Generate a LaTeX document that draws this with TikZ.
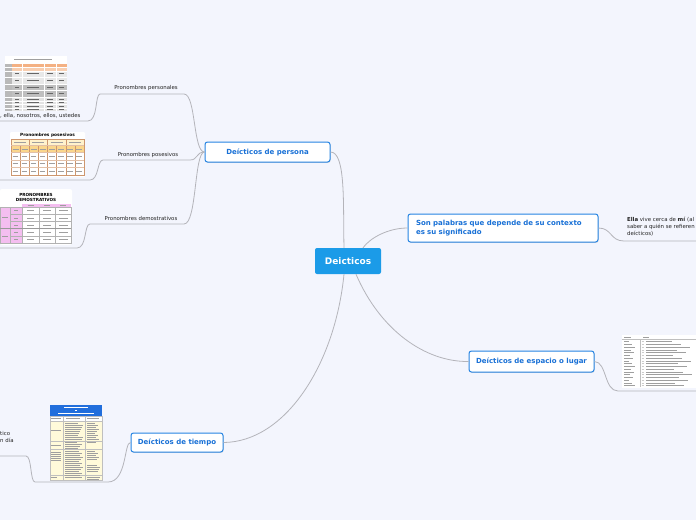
\documentclass[tikz,border=0pt]{standalone}
\usepackage{fontspec}
\setmainfont{DejaVu Sans}
\usetikzlibrary{shadows,calc}
\definecolor{bg}{RGB}{243,245,253}
\definecolor{mblue}{RGB}{38,132,226}
\definecolor{tblue}{RGB}{24,112,214}
\definecolor{cfill}{RGB}{27,155,232}
\definecolor{conn}{RGB}{180,180,186}
\definecolor{lab}{RGB}{35,35,35}
\definecolor{orA}{RGB}{244,177,131}
\definecolor{orB}{RGB}{248,206,176}
\definecolor{cream}{RGB}{255,242,204}
\definecolor{gold}{RGB}{250,214,140}
\definecolor{brn}{RGB}{205,150,110}
\definecolor{pinkA}{RGB}{244,190,240}
\definecolor{tbblue}{RGB}{33,110,220}
\definecolor{tbcream}{RGB}{255,250,218}
\begin{document}
\begin{tikzpicture}[x=1pt,y=-1pt,
 conn/.style={draw=conn,line width=0.8pt},
 branch/.style={draw=mblue,line width=1pt,fill=white,rounded corners=2.5pt,text=tblue,
   font=\bfseries\fontsize{7}{8.5}\selectfont,inner sep=0pt,
   drop shadow={shadow xshift=0.6pt,shadow yshift=-0.9pt,opacity=0.25}},
 lbl/.style={font=\fontsize{5.4}{7}\selectfont,text=lab,inner sep=0pt},
 ftxt/.style={draw=gray!75,line width=0.45pt},
]
\useasboundingbox (0,0) rectangle (696,520);
\fill[bg] (0,0) rectangle (696,520);
\clip (0,0) rectangle (696,520);

% ---------- main nodes ----------
\node[fill=cfill,rounded corners=2pt,minimum width=66pt,minimum height=26pt,inner sep=0pt,
  text=white,font=\bfseries\fontsize{9}{10}\selectfont] (c) at (348,261) {Deicticos};
\node[branch,minimum width=125pt,minimum height=20pt] (p) at (267.5,152) {Deícticos de persona};
\node[branch,minimum width=190pt,minimum height=28pt,text width=174pt,align=left] (s) at (503,228)
  {Son palabras que depende de su contexto\\es su significado};
\node[branch,minimum width=125pt,minimum height=21pt] (e) at (531.5,361.5) {Deícticos de espacio o lugar};
\node[branch,minimum width=92pt,minimum height=19pt] (t) at (177,442.5) {Deícticos de tiempo};

% ---------- main connectors ----------
\draw[conn] (p.east) .. controls (346,152) and (343,205) .. ($(c.north)+(-4,0)$);
\draw[conn] ($(c.north)+(15,0)$) .. controls (370,238) and (388,228) .. (s.west);
\draw[conn] ($(c.south)+(8,0)$) .. controls (380,330) and (425,362) .. (e.west);
\draw[conn] ($(c.south)+(-4,0)$) .. controls (335,365) and (285,442) .. (t.east);

% ---------- persona sub-branches ----------
\node[lbl] (lp1) at (146,88) {Pronombres personales};
\node[lbl] (lp2) at (148,155) {Pronombres posesivos};
\node[lbl] (lp3) at (141,218.5) {Pronombres demostrativos};
\coordinate (a1) at (184,94);  \coordinate (a2) at (100,94);
\coordinate (a3) at (88,121);  \coordinate (a4) at (0,121);
\coordinate (b1) at (190,160); \coordinate (b2) at (103,160);
\coordinate (b3) at (90,180);  \coordinate (b4) at (0,180);
\coordinate (d1) at (184,224); \coordinate (d2) at (90,224);
\coordinate (d3) at (77,248);  \coordinate (d4) at (0,248);
\draw[conn] (p.west) .. controls (193,152) and (196,94) .. (a1) -- (a2)
   .. controls (95,94) and (98,121) .. (a3) -- (a4);
\draw[conn] (p.west) .. controls (196,152) and (198,160) .. (b1) -- (b2)
   .. controls (97,160) and (99,180) .. (b3) -- (b4);
\draw[conn] (p.west) .. controls (194,152) and (197,224) .. (d1) -- (d2)
   .. controls (84,224) and (87,248) .. (d3) -- (d4);

\node[lbl,anchor=west] (tp) at (0,116) {, ella, nosotros, ellos, ustedes};

% table: personales
\begin{scope}
\fill[white] (5,56) rectangle (67,111);
\draw[ftxt] (14,59.5) -- (52,59.5);
\fill[orA] (12,63.5) rectangle (67,67.5);
\fill[orB] (12,67.5) rectangle (67,71);
\fill[gray!55] (5,63.5) rectangle (12,111);
\fill[gray!18] (12,71) rectangle (67,84);
\fill[gray!50] (12,84) rectangle (67,97);
\fill[gray!22] (12,97) rectangle (67,111);
\foreach \xx in {22,44,56} \draw[white,line width=0.4pt] (\xx,63.5) -- (\xx,111);
\foreach \yy in {67.5,71,77,84,90,97,101,104,108} \draw[white,line width=0.3pt] (5,\yy) -- (67,\yy);
\foreach \yy in {73.5,80,87,93,99,102.5,106,109.5} {
  \draw[gray!80!black,line width=0.35pt] (15,\yy) -- (19,\yy);
  \draw[gray!80!black,line width=0.35pt] (27,\yy) -- (39,\yy);
  \draw[gray!80!black,line width=0.35pt] (47,\yy) -- (53,\yy);
  \draw[gray!80!black,line width=0.35pt] (59,\yy) -- (64,\yy);}
\end{scope}

% table: posesivos
\begin{scope}
\fill[white,rounded corners=1pt] (10,132) rectangle (85,177);
\node[font=\bfseries\fontsize{4.3}{5}\selectfont,inner sep=0pt] (tt2) at (47.5,135.3) {Pronombres posesivos};
\fill[cream] (11,139) rectangle (84,145.5);
\fill[gold] (11,145.5) rectangle (84,152.5);
\draw[brn,line width=0.3pt] (11,139) rectangle (84,175);
\foreach \xx in {29.25,47.5,65.75} \draw[brn,line width=0.4pt] (\xx,139) -- (\xx,175);
\foreach \xx in {20.1,38.4,56.6,74.9} \draw[brn,line width=0.3pt] (\xx,145.5) -- (\xx,175);
\foreach \yy in {145.5,152.5,160,167.5} \draw[brn!60,line width=0.3pt] (11,\yy) -- (84,\yy);
\foreach \xx in {20.1,38.4,56.6,74.9} \draw[ftxt] (\xx-6,142.2) -- (\xx+6,142.2);
\foreach \xx in {15.5,24.6,33.8,42.9,52,61.2,70.3,79.4} {
  \draw[ftxt] (\xx-3,149) -- (\xx+3,149);
  \foreach \yy in {156.2,163.7,171.2} \draw[ftxt] (\xx-3,\yy) -- (\xx+2.5,\yy);}
\end{scope}

% table: demostrativos
\begin{scope}
\fill[white,rounded corners=2pt] (0,189) rectangle (72,245);
\node[font=\bfseries\fontsize{4.2}{5}\selectfont,inner sep=0pt,align=center] (tt3) at (36,197.5) {PRONOMBRES\\DEMOSTRATIVOS};
\fill[pinkA] (22,203.5) rectangle (71,207);
\fill[pinkA] (0,207) rectangle (22,243);
\draw[gray!60,line width=0.3pt] (0,207) rectangle (71,243);
\foreach \xx in {10,22,39,55} \draw[gray!60,line width=0.3pt] (\xx,207) -- (\xx,243);
\foreach \yy in {214.2,221.4,236} \draw[gray!60,line width=0.3pt] (10,\yy) -- (71,\yy);
\draw[gray!80,line width=0.6pt] (0,228.6) -- (71,228.6);
\foreach \xx in {30.5,47,63} \draw[ftxt] (\xx-3,205.2) -- (\xx+3,205.2);
\draw[ftxt] (2,217.5) -- (8,217.5);
\draw[ftxt] (2,236) -- (8,236);
\foreach \yy in {210.6,217.8,225,232.2,239.4} {
  \draw[ftxt] (14,\yy) -- (18,\yy);
  \draw[ftxt] (27,\yy) -- (34,\yy);
  \draw[ftxt] (43,\yy) -- (51,\yy);
  \draw[ftxt] (59,\yy) -- (68,\yy);}
\end{scope}

% ---------- right: Son palabras ----------
\coordinate (r1) at (624,241); \coordinate (r2) at (696,241);
\draw[conn] (s.east) .. controls (612,228) and (610,241) .. (r1) -- (r2);
\node[lbl,anchor=north west,align=left,font=\fontsize{5.4}{7.2}\selectfont] (rt) at (627,216.5)
  {\textbf{Ella} vive cerca de \textbf{mí} (al\\saber a quién se refieren\\deícticos)};

% ---------- espacio ----------
\coordinate (q1) at (618,391); \coordinate (q2) at (696,391);
\draw[conn] (e.east) .. controls (607,362) and (604,391) .. (q1) -- (q2);
\begin{scope}
\fill[white] (622,335) rectangle (696,388);
\draw[ftxt] (624,337.5) -- (631,337.5);
\draw[ftxt] (643,337.5) -- (649,337.5);
\draw[gray!50,line width=0.3pt] (622,339) -- (696,339);
\draw[gray!50,line width=0.3pt] (640,339) -- (640,387);
\foreach \i in {0,...,16} {
  \draw[ftxt] (624,{341.5+\i*2.75}) -- ({629+mod(\i*3,7)},{341.5+\i*2.75});
  \draw[gray!40,line width=0.25pt] (641.5,{341.5+\i*2.75}) -- (644,{341.5+\i*2.75});
  \draw[ftxt] (646,{341.5+\i*2.75}) -- ({672+mod(\i*9,22)},{341.5+\i*2.75});}
\end{scope}

% ---------- tiempo ----------
\coordinate (u1) at (108,482); \coordinate (u2) at (35,482);
\coordinate (u3) at (26,456);  \coordinate (u4) at (0,456);
\draw[conn] (t.west) .. controls (124,442) and (127,482) .. (u1) -- (u2)
   .. controls (30,482) and (32,456) .. (u3) -- (u4);
\node[lbl,anchor=north west,align=left] (lt) at (0,431.5) {tico\\n día};
\begin{scope}
\fill[tbblue] (50,405) rectangle (102,416);
\draw[white,line width=0.35pt] (64,407.5) -- (88,407.5);
\draw[white,line width=0.35pt] (75,410.2) -- (77,410.2);
\draw[white,line width=0.35pt] (58,413) -- (94,413);
\fill[white] (50,416) rectangle (102,421);
\fill[tbcream] (50,421) rectangle (102,480);
\draw[gray!50,line width=0.3pt] (50,416) rectangle (102,480);
\draw[gray!50,line width=0.3pt] (63,416) -- (63,480);
\draw[gray!50,line width=0.3pt] (85,416) -- (85,480);
\foreach \yy in {421,441,449,475} \draw[gray!50,line width=0.3pt] (50,\yy) -- (102,\yy);
\draw[ftxt] (51,418.5) -- (61,418.5);
\draw[ftxt] (66,418.5) -- (80,418.5);
\draw[ftxt] (87,418.5) -- (99,418.5);
\draw[ftxt] (51,430) -- (61,430);
\draw[ftxt] (51,445) -- (61,445);
\foreach \yy in {452,454,456,458,460} \draw[ftxt] (51,\yy) -- (61,\yy);
\draw[ftxt] (51,477.5) -- (57,477.5);
\foreach \i in {0,...,8} {
  \draw[ftxt] (65,{423+\i*2}) -- ({78+mod(\i*5,6)},{423+\i*2});
  \draw[ftxt] (87,{423+\i*2}) -- ({95+mod(\i*3,5)},{423+\i*2});}
\foreach \i in {0,...,3} \draw[ftxt] (65,{442.5+\i*2}) -- ({77+mod(\i*5,7)},{442.5+\i*2});
\draw[ftxt] (87,442.5) -- (96,442.5);
\foreach \i in {0,...,12} \draw[ftxt] (65,{451+\i*2}) -- ({79+mod(\i*3,5)},{451+\i*2});
\foreach \i in {0,...,4} \draw[ftxt] (87,{451+\i*2}) -- ({95+mod(\i*3,5)},{451+\i*2});
\foreach \i in {0,...,3} \draw[ftxt] (87,{465+\i*2}) -- ({97+mod(\i*3,4)},{465+\i*2});
\draw[ftxt] (65,477.5) -- (82,477.5);
\draw[ftxt] (87,476.8) -- (100,476.8);
\draw[ftxt] (87,478.8) -- (99,478.8);
\end{scope}
\end{tikzpicture}
\end{document}
